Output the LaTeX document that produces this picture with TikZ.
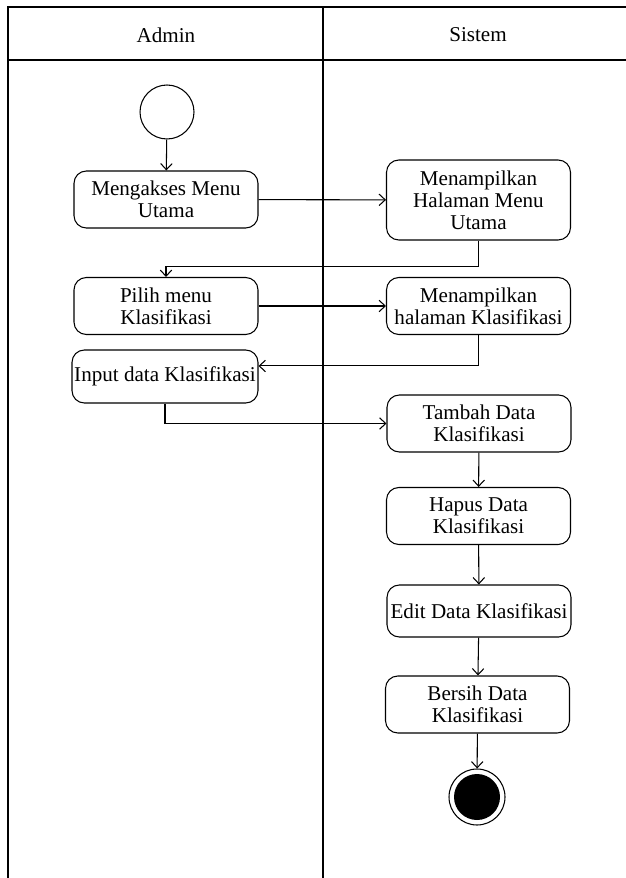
\documentclass[tikz,border=0pt]{standalone}
\usepackage{fontspec}
\setmainfont{Liberation Serif}
\usetikzlibrary{arrows.meta,positioning,calc}

\begin{document}
\begin{tikzpicture}[
    x=0.02cm, y=-0.02cm,
    act/.style={draw, rounded corners=7pt, minimum width=3.68cm, minimum height=1.14cm, align=center, inner sep=1pt, font=\fontsize{12}{12.5}\selectfont, line width=0.6pt},
    startnode/.style={draw, circle, minimum size=1.08cm, line width=0.6pt},
    stopnode/.style={draw, circle, minimum size=1.12cm, line width=0.6pt},
    lane/.style={font=\fontsize{12}{12.5}\selectfont},
    arr/.style={-{Straight Barb[length=3.5pt,width=6.5pt]}, line width=0.6pt}
]
\useasboundingbox (0,0) rectangle (625,878);
% swimlanes
\draw[line width=0.7pt] (8,920) -- (8,7) -- (660,7);
\draw[line width=0.7pt] (8,60) -- (660,60);
\draw[line width=0.8pt] (323,7) -- (323,920);
\node[lane] (admin) at (166,35) {Admin};
\node[lane] (sistem) at (478,35) {Sistem};

\node[startnode] (start) at (167,112) {};
\node[act] (akses) at (166,199.5) {Mengakses Menu\\Utama};
\node[act, minimum height=1.6cm] (tampilmenu) at (478.5,200) {Menampilkan\\Halaman Menu\\Utama};
\node[act] (pilih) at (166,306) {Pilih menu\\Klasifikasi};
\node[act] (tampilklas) at (478.5,306) {Menampilkan\\halaman Klasifikasi};
\node[act, minimum height=1.06cm, minimum width=3.72cm] (input) at (165,376.5) {Input data Klasifikasi};
\node[act] (tambah) at (479,423.5) {Tambah Data\\Klasifikasi};
\node[act] (hapus) at (478.5,516) {Hapus Data\\Klasifikasi};
\node[act, minimum height=1.04cm] (edit) at (479,611) {Edit Data Klasifikasi};
\node[act] (bersih) at (477.5,704.5) {Bersih Data\\Klasifikasi};
\node[stopnode] (stop) at (477,797) {};
\fill (stop.center) circle (0.46cm);

\draw[arr] (start) -- (akses);
\draw[arr] (akses) -- (tampilmenu);
\draw[arr] (tampilmenu.south) -- ++(0,26) -| (pilih.north);
\draw[arr] (pilih) -- (tampilklas);
\draw[arr] (tampilklas.south) |- ([yshift=6pt]input.east);
\draw[arr] (input.south) |- (tambah.west);
\draw[arr] (tambah) -- (hapus);
\draw[arr] (hapus) -- (edit);
\draw[arr] (edit) -- (bersih);
\draw[arr] (bersih) -- (stop);
\end{tikzpicture}
\end{document}
